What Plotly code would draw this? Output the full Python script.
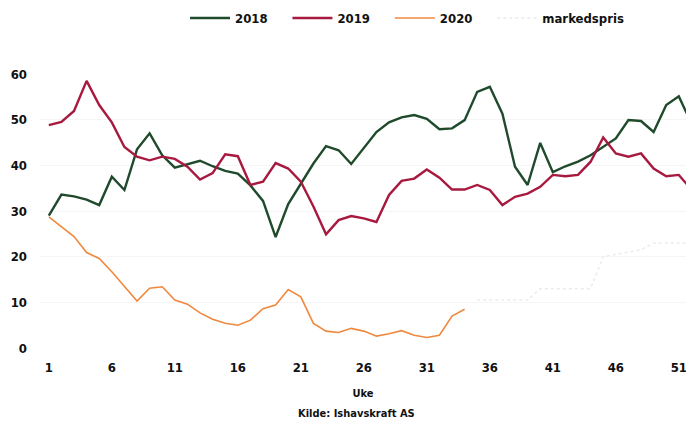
import plotly.graph_objects as go

# Ukenummer
weeks = list(range(1, 53))

pris_2018 = [29, 33.6, 33.2, 32.5, 31.3, 37.5, 34.6, 43.5, 47, 42.2,
             39.5, 40.3, 41, 39.8, 38.8, 38.2, 35.6, 32.2, 24.3, 31.5,
             36.1, 40.4, 44.2, 43.3, 40.3, 43.9, 47.3, 49.4, 50.5, 51,
             50.2, 47.9, 48.1, 49.9, 56.1, 57.2, 51.3, 39.7, 35.7, 44.9,
             38.5, 39.8, 40.8, 42.2, 44, 45.9, 49.9, 49.7, 47.3, 53.2,
             55.1, 49.2]

pris_2019 = [48.8, 49.5, 51.9, 58.5, 53.2, 49.4, 44, 41.9, 41.1, 41.9,
             41.4, 39.7, 36.9, 38.3, 42.4, 42, 35.7, 36.4, 40.5, 39.3,
             36.4, 31, 24.9, 28, 28.9, 28.4, 27.6, 33.5, 36.6, 37.1,
             39.1, 37.3, 34.7, 34.7, 35.7, 34.6, 31.3, 33.1, 33.8, 35.3,
             37.9, 37.6, 37.9, 40.8, 46.1, 42.6, 41.9, 42.6, 39.3, 37.6,
             37.9, 34.7]

pris_2020 = [28.7, 26.5, 24.4, 20.9, 19.6, 16.7, 13.4, 10.3, 13.1, 13.4,
             10.5, 9.6, 7.7, 6.3, 5.4, 5.0, 6.1, 8.6, 9.4, 12.8,
             11.2, 5.4, 3.7, 3.4, 4.3, 3.7, 2.6, 3.1, 3.8, 2.8,
             2.3, 2.8, 7.0, 8.5]

# markedspris (terminpriser) fra uke 35
marked_uker = list(range(35, 53))
markedspris = [10.5, 10.5, 10.5, 10.5, 10.5, 13, 13, 13, 13, 13,
               20, 20.5, 21, 21.5, 23, 23, 23, 23]

x_ticks = [1, 6, 11, 16, 21, 26, 31, 36, 41, 46, 51]
y_ticks = [0, 10, 20, 30, 40, 50, 60]

FONT = "Liberation Sans Narrow, DejaVu Sans Condensed, Arial Narrow, sans-serif"
PAD = '&nbsp;' * 4  # extra space between legend entries

fig = go.Figure()

fig.add_trace(go.Scatter(x=weeks, y=pris_2018, mode='lines',
                         name='<b>2018</b>' + PAD,
                         line=dict(color='#1f4a2c', width=2.4)))
fig.add_trace(go.Scatter(x=weeks, y=pris_2019, mode='lines',
                         name='<b>2019</b>' + PAD,
                         line=dict(color='#a8193f', width=2.4)))
fig.add_trace(go.Scatter(x=weeks[:len(pris_2020)], y=pris_2020, mode='lines',
                         name='<b>2020</b>' + PAD,
                         line=dict(color='#f0883e', width=1.6)))
fig.add_trace(go.Scatter(x=marked_uker, y=markedspris, mode='lines',
                         name='<b>markedspris</b>',
                         line=dict(color='#ebebeb', width=1.5, dash='dot')))

fig.update_layout(
    width=686, height=423,
    margin=dict(l=40, r=0, t=74, b=75),
    paper_bgcolor='white', plot_bgcolor='white',
    font=dict(family=FONT, size=13, color='#111111'),
    showlegend=True,
    legend=dict(orientation='h', x=0.2245, xanchor='left', y=1.204,
                yanchor='middle', font=dict(size=13), itemwidth=40,
                bgcolor='rgba(0,0,0,0)'),
    xaxis=dict(range=[0.3, 51.57], tickvals=x_ticks,
               ticktext=[f'<b>{t}</b>' for t in x_ticks],
               showgrid=False, zeroline=False, showline=False, ticks='',
               ticklabelstandoff=10, tickfont=dict(size=13), automargin=False,
               ticklabeloverflow='allow',
               title=dict(text='<b>Uke</b>', font=dict(size=11), standoff=15)),
    yaxis=dict(range=[0, 60], tickvals=y_ticks,
               ticktext=[f'<b>{t}</b>' for t in y_ticks],
               showgrid=True, gridcolor='#f5f5f5', gridwidth=1,
               zeroline=False, showline=False, ticks='', automargin=False,
               ticklabelstandoff=12, tickfont=dict(size=13)),
    annotations=[dict(text='<b>Kilde: Ishavskraft AS</b>', x=0.49, y=-0.24,
                      xref='paper', yref='paper', showarrow=False,
                      xanchor='center', yanchor='middle',
                      font=dict(size=11))],
)

# drop the browser's default 8px body margin so the figure fills the window
fig.write_html("out.html",
               config={'displayModeBar': False},
               post_script="document.body.style.margin='0';"
                           "document.body.style.overflow='hidden';")
